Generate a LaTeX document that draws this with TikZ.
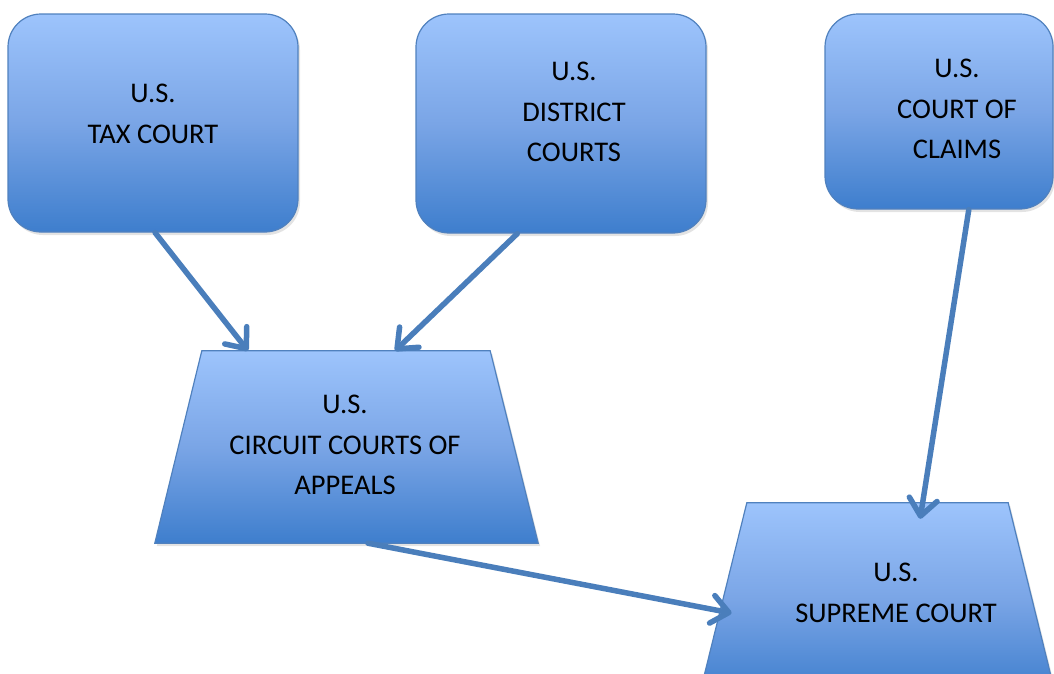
\documentclass[tikz,border=0pt]{standalone}
\usepackage{fontspec}
\setmainfont{Carlito}
\usetikzlibrary{arrows.meta,calc,shadows}
\definecolor{boxtop}{RGB}{157,196,252}
\definecolor{boxmid}{RGB}{122,165,230}
\definecolor{boxbot}{RGB}{62,126,205}
\definecolor{edge}{RGB}{80,129,190}
\definecolor{arrowc}{RGB}{74,126,187}
\tikzset{
  courtfill/.style={draw=edge, line width=1.2pt,
    top color=boxtop, bottom color=boxbot, middle color=boxmid,
    drop shadow={opacity=0.22, shadow xshift=2pt, shadow yshift=-3pt}},
  courtbox/.style={shape=rectangle, rounded corners=33pt, courtfill, inner sep=0pt},
  trapframe/.style={shape=rectangle, inner sep=0pt},
  courtlabel/.style={align=center, inner sep=0pt, font=\fontsize{28.5}{40.5}\selectfont, text=black},
  link/.style={draw=arrowc, line width=5.5pt, line cap=round, line join=round,
    -{Straight Barb[length=17pt, width=28pt, line cap=round, line join=round]}}
}
\begin{document}
\begin{tikzpicture}[x=1pt, y=-1pt]
\useasboundingbox (0,0) rectangle (1054,673);
% shapes
\node[courtbox, minimum width=290pt, minimum height=218pt] (tax) at (153,123) {};
\node[courtbox, minimum width=290pt, minimum height=219pt] (district) at (561,123.5) {};
\node[courtbox, minimum width=228pt, minimum height=195pt] (claims) at (939,111.5) {};
\node[trapframe, minimum width=383pt, minimum height=192pt] (circuit) at (346.5,447) {};
\node[trapframe, minimum width=356pt, minimum height=192pt] (supreme) at (877.5,599) {};
\coordinate (circuitTL) at ($(circuit.north west)+(47,0)$);
\coordinate (circuitTR) at ($(circuit.north east)+(-48,0)$);
\coordinate (supremeTL) at ($(supreme.north west)+(47.5,0)$);
\coordinate (supremeTR) at ($(supreme.north east)+(-47.5,0)$);
\path[courtfill] (circuit.south west) -- (circuit.south east) -- (circuitTR) -- (circuitTL) -- cycle;
\path[courtfill] (supreme.south west) -- (supreme.south east) -- (supremeTR) -- (supremeTL) -- cycle;
% labels
\node[courtlabel] (taxl) at (153,114) {U.S.\\TAX COURT};
\node[courtlabel] (districtl) at (574,112) {U.S.\\DISTRICT\\COURTS};
\node[courtlabel] (claimsl) at (957,109) {U.S.\\COURT OF\\CLAIMS};
\node[courtlabel] (circuitl) at (345,445) {U.S.\\CIRCUIT COURTS OF\\APPEALS};
\node[courtlabel] (supremel) at (896,593) {U.S.\\SUPREME COURT};
% connectors
\draw[link] ($(tax.south west)!0.507!(tax.south east)$) -- ($(circuitTL)!0.16!(circuitTR)$);
\draw[link] ($(district.south west)!0.35!(district.south east)$) -- ($(circuitTL)!0.67!(circuitTR)$);
\draw[link] ($(claims.south west)!0.63!(claims.south east)$) -- ($(supremeTL)!0.663!(supremeTR)+(0,16)$);
\draw[link] ($(circuit.south west)!0.556!(circuit.south east)$) -- ($(supremeTL)!0.573!(supreme.south west)+(12,0)$);
\end{tikzpicture}
\end{document}
